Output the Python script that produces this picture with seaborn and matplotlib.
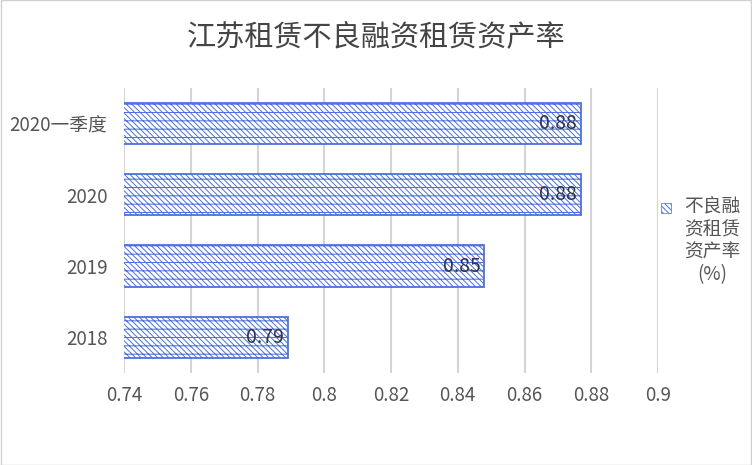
import matplotlib
matplotlib.use("Agg")
import matplotlib.pyplot as plt
import seaborn as sns
import pandas as pd
from matplotlib.patches import Rectangle

categories = ["2020一季度", "2020", "2019", "2018"]
values = [0.877, 0.877, 0.848, 0.789]
labels = ["0.88", "0.88", "0.85", "0.79"]
xticks = [0.74, 0.76, 0.78, 0.8, 0.82, 0.84, 0.86, 0.88, 0.9]
xtick_labels = ["0.74", "0.76", "0.78", "0.8", "0.82", "0.84", "0.86", "0.88", "0.9"]
series_name = "不良融\n资租赁\n资产率\n(%)"
title = "江苏租赁不良融资租赁资产率"

sns.set_theme(style="white")
plt.rcParams['font.family'] = ['Noto Sans CJK SC', 'DejaVu Sans']
plt.rcParams['hatch.linewidth'] = 0.7

blue = "#4d6fe3"
hatch = "\\\\\\\\\\\\--"
df = pd.DataFrame({"cat": categories, "val": values})

fig = plt.figure(figsize=(7.52, 4.65), dpi=100)
ax = fig.add_axes([0.165, 0.198, 0.71, 0.613])
sns.barplot(data=df, y="cat", x="val", orient="h", ax=ax, width=0.58,
            color="white", edgecolor=blue, linewidth=1.3)
for p in ax.patches:
    p.set_hatch(hatch)
    p.set_facecolor("white")
    p.set_edgecolor(blue)

ax.set_xlim(0.74, 0.9)
ax.set_xticks(xticks)
ax.set_xticklabels(xtick_labels, fontsize=13.5, color="#555555")
ax.tick_params(axis="y", labelsize=13.5, labelcolor="#555555", length=0, pad=12)
ax.tick_params(axis="x", length=0, pad=9)
ax.set_xlabel("")
ax.set_ylabel("")
ax.grid(axis="x", color="#d4d4d4", linewidth=1.5)
ax.set_axisbelow(True)
for s in ax.spines.values():
    s.set_visible(False)

for i, (v, lab) in enumerate(zip(values, labels)):
    ax.text(v - 0.0012, i, lab, ha="right", va="center", fontsize=14, color="#333344")

fig.text(0.5, 0.918, title, ha="center", va="center", fontsize=21, color="#444444")

# legend (manual, to match layout)
fig.add_artist(Rectangle((0.879, 0.542), 0.013, 0.021, transform=fig.transFigure,
                         facecolor="white", edgecolor=blue, hatch="\\\\\\\\\\\\",
                         linewidth=0.5))
fig.text(0.947, 0.482, series_name, ha="center", va="center", fontsize=13.5,
         color="#555555", linespacing=1.1, multialignment="center")

fig.add_artist(Rectangle((0.001, 0.001), 0.998, 0.998, transform=fig.transFigure,
                         fill=False, edgecolor="#d0d0d0", linewidth=1))

fig.savefig("out.png", dpi=100)
